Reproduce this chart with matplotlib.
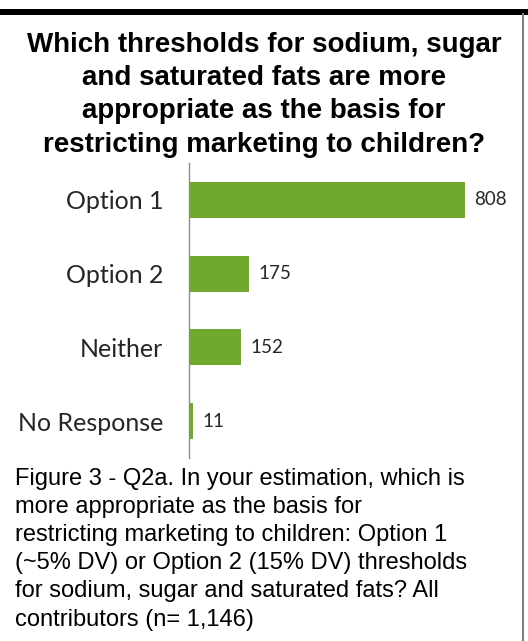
import matplotlib
matplotlib.use("Agg")
import matplotlib.pyplot as plt
from matplotlib.patches import Rectangle
from matplotlib.lines import Line2D

# --- data ---
categories = ["Option 1", "Option 2", "Neither", "No Response"]
counts = [808, 175, 152, 11]

title = ("Which thresholds for sodium, sugar\n"
         "and saturated fats are more\n"
         "appropriate as the basis for\n"
         "restricting marketing to children?")
caption = ("Figure 3 - Q2a. In your estimation, which is\n"
           "more appropriate as the basis for\n"
           "restricting marketing to children: Option 1\n"
           "(~5% DV) or Option 2 (15% DV) thresholds\n"
           "for sodium, sugar and saturated fats? All\n"
           "contributors (n= 1,146)")

W, H = 528, 641
fig = plt.figure(figsize=(W / 100, H / 100), dpi=100)
fig.patch.set_facecolor("white")

# frame: thick black bar on top, thin grey line on the right
fig.add_artist(Rectangle((0, 1 - 14.5 / H), 1, 5.5 / H, transform=fig.transFigure,
                         facecolor="black", edgecolor="none"))
fig.add_artist(Line2D([523 / W, 523 / W], [0, 1 - 14 / H], transform=fig.transFigure,
                      color="#808080", lw=1.5))

fig.text(264 / W, 1 - 32 / H, title, ha="center", va="top",
         fontfamily="Liberation Sans", fontweight="bold", fontsize=20,
         linespacing=1.36, color="black")

ax = fig.add_axes([189 / W, 1 - 458 / H, (510 - 189) / W, (458 - 163) / H])
y = list(range(len(categories)))
ax.barh(y, counts, height=0.49, color="#71a92f")
ax.set_ylim(len(categories) - 0.5, -0.5)
ax.set_xlim(0, 940)

for yi, v in zip(y, counts):
    ax.text(v + 27, yi, str(v), va="center", ha="left",
            fontfamily="Lato", fontsize=13.5, color="#262626")

ax.set_yticks(y)
ax.set_yticklabels(categories, fontfamily="Lato", fontsize=18, color="#262626")
ax.tick_params(axis="y", length=0, pad=18.5)
ax.set_xticks([])
for s in ["top", "right", "bottom"]:
    ax.spines[s].set_visible(False)
ax.spines["left"].set_color("#8c8c8c")
ax.spines["left"].set_linewidth(1.0)

fig.text(15 / W, 1 - 468 / H, caption, ha="left", va="top",
         fontfamily="Liberation Sans", fontsize=17, linespacing=1.36,
         color="black")

fig.savefig("out.png", dpi=100)
